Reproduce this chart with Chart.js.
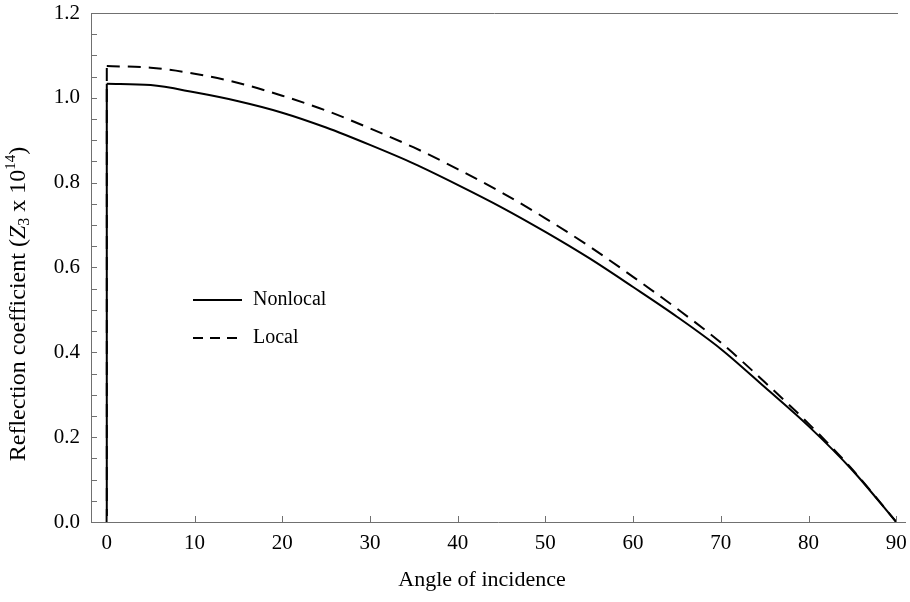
<!DOCTYPE html>
<html lang="en">
<head>
    <meta charset="UTF-8">
    <title>Reflection coefficient vs angle of incidence</title>
    <style>
        body { margin: 0; background: #fff; }
        #chart-container { width: 910px; height: 602px; position: relative; }
    </style>
    <script src="https://cdn.jsdelivr.net/npm/chart.js"></script>
</head>
<body>
    <div id="chart-container">
        <canvas id="reflChart"></canvas>
    </div>

    <script>
        // Data
        const angles   = [0, 5, 10, 15, 20, 25, 30, 35, 40, 45, 50, 55, 60, 65, 70, 75, 80, 85, 90];
        const nonlocal = [1.033, 1.030, 1.013, 0.992, 0.965, 0.930, 0.889, 0.845, 0.795, 0.742, 0.684, 0.622, 0.554, 0.484, 0.408, 0.318, 0.226, 0.122, 0.0];
        const local    = [1.075, 1.071, 1.057, 1.035, 1.005, 0.970, 0.928, 0.883, 0.832, 0.777, 0.716, 0.650, 0.578, 0.503, 0.423, 0.330, 0.232, 0.124, 0.0];
        const xTicks = [0, 10, 20, 30, 40, 50, 60, 70, 80, 90];
        const yTicks = [0.0, 0.2, 0.4, 0.6, 0.8, 1.0, 1.2];

        const FONT = "'Liberation Serif', 'Times New Roman', serif";
        const AXIS_GREY = '#707070';
        const DASH = [13, 8];

        function toPoints(xs, ys) {
            return xs.map((x, i) => ({ x: x, y: ys[i] }));
        }

        // vertical jump at normal incidence
        const nonlocalEdge = [{ x: angles[0], y: 0 }, { x: angles[0], y: nonlocal[0] }];
        const localEdge = [{ x: angles[0], y: 0 }, { x: angles[0], y: local[0] }];

        const decorPlugin = {
            id: 'decor',
            afterDraw(chart) {
                const ctx = chart.ctx;
                const area = chart.chartArea;
                const xs = chart.scales.x;
                const ys = chart.scales.y;
                ctx.save();

                // top frame line
                ctx.strokeStyle = AXIS_GREY;
                ctx.lineWidth = 1;
                ctx.beginPath();
                ctx.moveTo(area.left, Math.round(area.top) + 0.5);
                ctx.lineTo(area.right - 7, Math.round(area.top) + 0.5);
                ctx.stroke();

                // inward ticks
                ctx.beginPath();
                ys.ticks.forEach(t => {
                    const py = Math.round(ys.getPixelForValue(t.value)) + 0.5;
                    ctx.moveTo(area.left, py);
                    ctx.lineTo(area.left + 6, py);
                });
                xTicks.forEach(v => {
                    const px = Math.round(xs.getPixelForValue(v)) + 0.5;
                    ctx.moveTo(px, area.bottom);
                    ctx.lineTo(px, area.bottom - 6);
                });
                ctx.stroke();

                // legend
                ctx.strokeStyle = '#000';
                ctx.lineWidth = 2;
                ctx.beginPath();
                ctx.moveTo(193, 300);
                ctx.lineTo(242, 300);
                ctx.stroke();
                ctx.setLineDash([10, 7]);
                ctx.beginPath();
                ctx.moveTo(193, 338);
                ctx.lineTo(243, 338);
                ctx.stroke();
                ctx.setLineDash([]);
                ctx.fillStyle = '#000';
                ctx.font = '20px ' + FONT;
                ctx.textBaseline = 'middle';
                ctx.textAlign = 'left';
                ctx.fillText('Nonlocal', 253, 300);
                ctx.fillText('Local', 253, 338);

                // x axis title
                ctx.textAlign = 'center';
                ctx.font = '22px ' + FONT;
                ctx.fillText('Angle of incidence', 482, 580);

                // y axis title with italic Z, subscript and superscript
                const parts = [
                    { t: 'Reflection coefficient (', f: '24px ' + FONT, dy: 0 },
                    { t: 'Z', f: 'italic 24px ' + FONT, dy: 0 },
                    { t: '3', f: '16px ' + FONT, dy: 6 },
                    { t: ' x 10', f: '24px ' + FONT, dy: 0 },
                    { t: '14', f: '15px ' + FONT, dy: -8 },
                    { t: ')', f: '24px ' + FONT, dy: 0 }
                ];
                let total = 0;
                parts.forEach(p => { ctx.font = p.f; p.w = ctx.measureText(p.t).width; total += p.w; });
                ctx.translate(19, 304);
                ctx.rotate(-Math.PI / 2);
                ctx.textAlign = 'left';
                let cx = -total / 2;
                parts.forEach(p => {
                    ctx.font = p.f;
                    ctx.fillText(p.t, cx, p.dy);
                    cx += p.w;
                });
                ctx.restore();
            }
        };

        const lineBase = {
            showLine: true,
            pointRadius: 0,
            borderColor: '#000',
            borderWidth: 2,
            fill: false
        };

        new Chart(document.getElementById('reflChart').getContext('2d'), {
            type: 'scatter',
            data: {
                datasets: [
                    Object.assign({ label: 'Nonlocal', data: toPoints(angles, nonlocal), cubicInterpolationMode: 'monotone' }, lineBase),
                    Object.assign({ label: 'Local', data: toPoints(angles, local), cubicInterpolationMode: 'monotone', borderDash: DASH }, lineBase),
                    Object.assign({ label: 'Nonlocal edge', data: nonlocalEdge }, lineBase),
                    Object.assign({ label: 'Local edge', data: localEdge, borderDash: DASH }, lineBase)
                ]
            },
            options: {
                responsive: true,
                maintainAspectRatio: false,
                animation: false,
                layout: { padding: { top: 13, right: 5, left: 0, bottom: 0 } },
                plugins: {
                    legend: { display: false },
                    tooltip: { enabled: false }
                },
                scales: {
                    x: {
                        type: 'linear',
                        min: -1.8,
                        max: 91,
                        afterBuildTicks: axis => { axis.ticks = xTicks.map(v => ({ value: v })); },
                        afterFit: axis => {
                            axis.height = 80;
                            axis.paddingLeft = 0;
                            axis.paddingRight = 0;
                        },
                        grid: { display: false, drawTicks: false },
                        border: { display: true, color: AXIS_GREY, width: 1 },
                        ticks: {
                            color: '#000',
                            padding: 9,
                            maxRotation: 0,
                            font: { family: FONT, size: 21 },
                            callback: v => String(v)
                        }
                    },
                    y: {
                        min: 0,
                        max: 1.2,
                        afterBuildTicks: axis => {
                            const t = [];
                            for (let i = 0; i <= 24; i++) t.push({ value: i * 0.05 });
                            axis.ticks = t;
                        },
                        afterFit: axis => {
                            axis.width = 91;
                            axis.paddingTop = 0;
                            axis.paddingBottom = 0;
                        },
                        grid: { display: false, drawTicks: false },
                        border: { display: true, color: AXIS_GREY, width: 1 },
                        ticks: {
                            color: '#000',
                            padding: 11,
                            font: { family: FONT, size: 21 },
                            autoSkip: false,
                            callback: v => {
                                const k = Math.round(v * 100);
                                return (k % 20 === 0) ? (k / 100).toFixed(1) : '';
                            }
                        }
                    }
                }
            },
            plugins: [decorPlugin]
        });
    </script>
</body>
</html>
